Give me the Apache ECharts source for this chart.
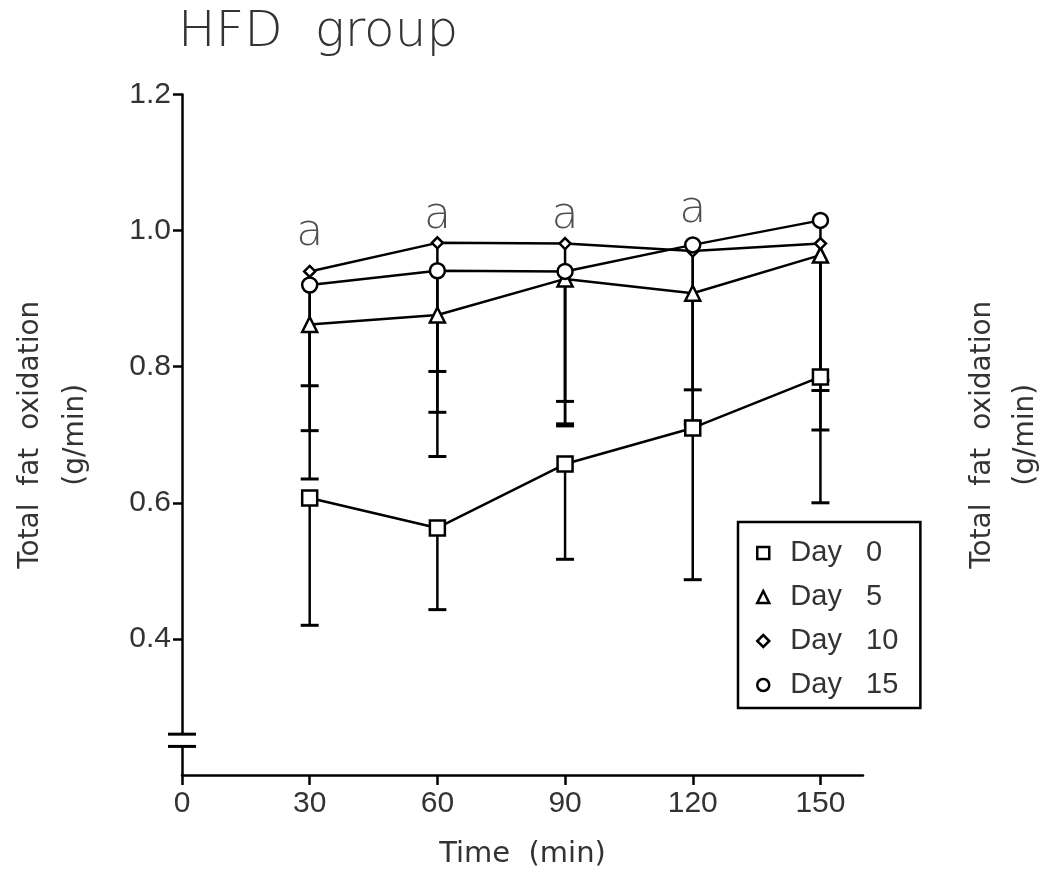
<!DOCTYPE html>
<html>
<head>
<meta charset="utf-8">
<script src="https://cdn.jsdelivr.net/npm/echarts@6/dist/echarts.min.js"></script>
<style>html,body{margin:0;padding:0;background:#fff;}#c{width:1045px;height:871px;}</style>
</head>
<body>
<div id="c"></div>
<script>
// ---- data ----
const xValues = [30, 60, 90, 120, 150];
const day0 = [0.607, 0.563, 0.657, 0.710, 0.785];
const day0Lower = [0.420, 0.443, 0.517, 0.487, 0.600];
const day5 = [0.862, 0.876, 0.929, 0.908, 0.964];
const day5Lower = [0.635, 0.668, 0.713, 0.715, 0.707];
const day10 = [0.940, 0.982, 0.981, 0.970, 0.981];
const day10Lower = [0.772, 0.793, 0.749, 0.766, 0.765];
const day15 = [0.920, 0.941, 0.940, 0.979, 1.015];
const day15Lower = [0.706, 0.733, 0.716, 0.720, 0.780];
const seriesNames = ['Day 0', 'Day 5', 'Day 10', 'Day 15'];
const xTicks = [0, 30, 60, 90, 120, 150];
const yTicks = [0.4, 0.6, 0.8, 1.0, 1.2];
const sigX = [30, 60, 90, 120];
const sigY = [0.995, 1.021, 1.021, 1.030];
const sigText = ['a', 'a', 'a', 'a'];
const axisBreak = [0.242, 0.26];

const INK = '#000';
const TXT = '#333';
const values = [day0, day5, day10, day15];
const lowers = [day0Lower, day5Lower, day10Lower, day15Lower];
const symbols = ['rect', 'triangle', 'diamond', 'circle'];
const symSizes = [15, 15, 11, 15];

const chart = echarts.init(document.getElementById('c'));

const lineSeries = seriesNames.map((name, k) => ({
  name: name,
  type: 'line',
  data: xValues.map((x, i) => [x, values[k][i]]),
  symbol: symbols[k],
  symbolSize: symSizes[k],
  showAllSymbol: true,
  itemStyle: { color: '#fff', borderColor: INK, borderWidth: 2.5 },
  lineStyle: { color: INK, width: 2.5 },
  emphasis: { disabled: true },
  z: 5
}));

const errData = [];
seriesNames.forEach((n, k) => {
  xValues.forEach((x, i) => errData.push([x, values[k][i], lowers[k][i]]));
});

const errSeries = {
  type: 'custom',
  name: 'err',
  data: errData,
  encode: { x: 0, y: [1, 2] },
  z: 3,
  silent: true,
  renderItem: function (params, api) {
    const x = api.value(0), v = api.value(1), lo = api.value(2);
    const p1 = api.coord([x, v]), p2 = api.coord([x, lo]);
    const hw = 9;
    return {
      type: 'group',
      children: [
        { type: 'line', shape: { x1: p1[0], y1: p1[1], x2: p2[0], y2: p2[1] }, style: { stroke: INK, lineWidth: 2.5 } },
        { type: 'line', shape: { x1: p2[0] - hw, y1: p2[1], x2: p2[0] + hw, y2: p2[1] }, style: { stroke: INK, lineWidth: 3 } }
      ]
    };
  }
};

const breakSeries = {
  type: 'custom',
  name: 'brk',
  data: [[0, axisBreak[0], axisBreak[1]]],
  encode: { x: 0, y: [1, 2] },
  clip: false,
  silent: true,
  z: 10,
  renderItem: function (params, api) {
    const a = api.coord([api.value(0), api.value(1)]);
    const b = api.coord([api.value(0), api.value(2)]);
    const hw = 14;
    return {
      type: 'group',
      children: [
        { type: 'rect', shape: { x: a[0] - 3, y: b[1], width: 6, height: a[1] - b[1] }, style: { fill: '#fff' } },
        { type: 'line', shape: { x1: a[0] - hw, y1: a[1], x2: a[0] + hw, y2: a[1] }, style: { stroke: INK, lineWidth: 3 } },
        { type: 'line', shape: { x1: b[0] - hw, y1: b[1], x2: b[0] + hw, y2: b[1] }, style: { stroke: INK, lineWidth: 3 } }
      ]
    };
  }
};

const sigSeries = {
  type: 'scatter',
  name: 'sig',
  data: sigX.map((x, i) => [x, sigY[i], sigText[i]]),
  symbolSize: 0,
  silent: true,
  label: {
    show: true,
    position: 'inside',
    formatter: p => p.value[2],
    fontFamily: 'DejaVu Sans',
    fontSize: 44,
    fontWeight: 200,
    color: '#222'
  },
  z: 6
};

const option = {
  animation: false,
  backgroundColor: '#fff',
  title: {
    text: 'HFD  group',
    left: 178,
    top: 8,
    padding: 0,
    textStyle: { fontFamily: 'DejaVu Sans', fontSize: 50, fontWeight: 200, color: '#333' }
  },
  grid: { left: 182, right: 182, top: 94.5, bottom: 96, containLabel: false, outerBoundsMode: 'none' },
  legend: {
    orient: 'vertical',
    left: 738,
    top: 522,
    padding: [16, 22, 8, 18],
    itemGap: 14,
    itemWidth: 12,
    itemHeight: 12,
    borderColor: INK,
    borderWidth: 2.5,
    selectedMode: false,
    data: seriesNames.map((n, k) => ({ name: n, icon: symbols[k] })),
    itemStyle: { color: '#fff', borderColor: INK, borderWidth: 2.5 },
    formatter: n => '  ' + n.replace(' ', '   '),
    textStyle: { fontFamily: 'Liberation Sans', fontSize: 29, lineHeight: 30, color: TXT }
  },
  xAxis: {
    type: 'value',
    min: 0,
    max: 160,
    name: 'Time  (min)',
    nameLocation: 'middle',
    nameGap: 65,
    nameTextStyle: { fontFamily: 'DejaVu Sans', fontSize: 29, color: TXT },
    axisLine: { show: true, onZero: false, lineStyle: { color: INK, width: 2.5 } },
    axisTick: { show: true, inside: false, length: 10, customValues: xTicks, lineStyle: { color: INK, width: 2.5 } },
    axisLabel: { customValues: xTicks, margin: 14, fontFamily: 'Liberation Sans', fontSize: 30, color: TXT },
    splitLine: { show: false }
  },
  yAxis: [{
    type: 'value',
    min: 0.2,
    max: 1.2,
    name: 'Total  fat  oxidation\n(g/min)',
    nameLocation: 'middle',
    nameRotate: 90,
    nameGap: 84,
    nameTextStyle: { fontFamily: 'DejaVu Sans', fontSize: 28, lineHeight: 45, color: TXT },
    axisLine: { show: true, onZero: false, lineStyle: { color: INK, width: 2.5 } },
    axisTick: { show: true, length: 9, customValues: yTicks, lineStyle: { color: INK, width: 2.5 } },
    axisLabel: { customValues: yTicks, margin: 11, fontFamily: 'Liberation Sans', fontSize: 30, color: TXT, formatter: v => v.toFixed(1) },
    splitLine: { show: false }
  }, {
    type: 'value',
    position: 'right',
    min: 0.2,
    max: 1.2,
    name: 'Total  fat  oxidation\n(g/min)',
    nameLocation: 'middle',
    nameRotate: 90,
    nameGap: 98,
    nameTextStyle: { fontFamily: 'DejaVu Sans', fontSize: 28, lineHeight: 43, color: TXT },
    axisLine: { show: false },
    axisTick: { show: false },
    axisLabel: { show: false },
    splitLine: { show: false }
  }],
  series: [errSeries].concat(lineSeries, [sigSeries, breakSeries])
};

chart.setOption(option);
</script>
</body>
</html>
